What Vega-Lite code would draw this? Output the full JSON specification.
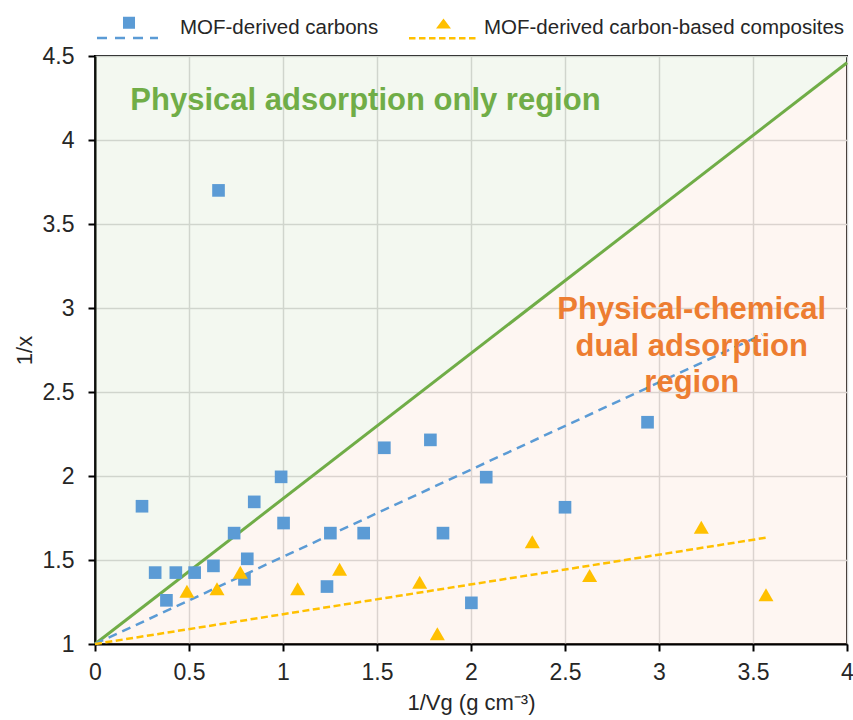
{
  "$schema": "https://vega.github.io/schema/vega-lite/v6.json",
  "width": 752,
  "height": 588,
  "autosize": {"type": "none"},
  "padding": {"left": 95, "top": 56, "right": 6, "bottom": 76},
  "config": {
    "font": "Liberation Sans",
    "view": {"stroke": "#000000", "strokeWidth": 2},
    "axis": {
      "domainColor": "#000000",
      "domainWidth": 2,
      "tickColor": "#000000",
      "tickWidth": 2,
      "tickSize": 7,
      "gridColor": "#d9d9d9",
      "gridWidth": 1.5,
      "labelFont": "Liberation Sans",
      "labelFontSize": 23,
      "labelColor": "#262626",
      "titleFont": "Liberation Sans",
      "titleFontSize": 22,
      "titleFontWeight": "normal",
      "titleColor": "#262626"
    }
  },
  "datasets": {
    "points": [
      {"series": "MOF-derived carbons", "x": 0.25, "y": 1.82},
      {"series": "MOF-derived carbons", "x": 0.32, "y": 1.425},
      {"series": "MOF-derived carbons", "x": 0.38, "y": 1.26},
      {"series": "MOF-derived carbons", "x": 0.43, "y": 1.425},
      {"series": "MOF-derived carbons", "x": 0.53, "y": 1.425},
      {"series": "MOF-derived carbons", "x": 0.63, "y": 1.465},
      {"series": "MOF-derived carbons", "x": 0.657, "y": 3.70},
      {"series": "MOF-derived carbons", "x": 0.74, "y": 1.66},
      {"series": "MOF-derived carbons", "x": 0.795, "y": 1.385},
      {"series": "MOF-derived carbons", "x": 0.81, "y": 1.507},
      {"series": "MOF-derived carbons", "x": 0.847, "y": 1.846},
      {"series": "MOF-derived carbons", "x": 0.99, "y": 1.995},
      {"series": "MOF-derived carbons", "x": 1.003, "y": 1.72},
      {"series": "MOF-derived carbons", "x": 1.252, "y": 1.66},
      {"series": "MOF-derived carbons", "x": 1.234, "y": 1.342},
      {"series": "MOF-derived carbons", "x": 1.429, "y": 1.66},
      {"series": "MOF-derived carbons", "x": 1.539, "y": 2.168},
      {"series": "MOF-derived carbons", "x": 1.784, "y": 2.215},
      {"series": "MOF-derived carbons", "x": 1.851, "y": 1.66},
      {"series": "MOF-derived carbons", "x": 2.002, "y": 1.245},
      {"series": "MOF-derived carbons", "x": 2.081, "y": 1.993},
      {"series": "MOF-derived carbons", "x": 2.5, "y": 1.814},
      {"series": "MOF-derived carbons", "x": 2.939, "y": 2.32},
      {"series": "MOF-derived carbon-based composites", "x": 0.489, "y": 1.314},
      {"series": "MOF-derived carbon-based composites", "x": 0.649, "y": 1.329},
      {"series": "MOF-derived carbon-based composites", "x": 0.773, "y": 1.427},
      {"series": "MOF-derived carbon-based composites", "x": 1.078, "y": 1.329},
      {"series": "MOF-derived carbon-based composites", "x": 1.301, "y": 1.445},
      {"series": "MOF-derived carbon-based composites", "x": 1.727, "y": 1.368},
      {"series": "MOF-derived carbon-based composites", "x": 1.821, "y": 1.061},
      {"series": "MOF-derived carbon-based composites", "x": 2.326, "y": 1.608},
      {"series": "MOF-derived carbon-based composites", "x": 2.631, "y": 1.408},
      {"series": "MOF-derived carbon-based composites", "x": 3.225, "y": 1.695},
      {"series": "MOF-derived carbon-based composites", "x": 3.569, "y": 1.293}
    ],
    "trend": [
      {"series": "MOF-derived carbons", "x": 0, "y": 1},
      {"series": "MOF-derived carbons", "x": 3.549, "y": 2.842},
      {"series": "MOF-derived carbon-based composites", "x": 0, "y": 1},
      {"series": "MOF-derived carbon-based composites", "x": 3.576, "y": 1.634}
    ],
    "boundary": [
      {"x": 0, "y": 1, "top": 4.5, "bottom": 1},
      {"x": 4, "y": 4.46, "top": 4.5, "bottom": 1}
    ]
  },
  "encoding": {
    "x": {
      "field": "x",
      "type": "quantitative",
      "scale": {"domain": [0, 4], "nice": false, "zero": false},
      "axis": {
        "title": "1/Vg (g cm⁻³)",
        "values": [0, 0.5, 1, 1.5, 2, 2.5, 3, 3.5, 4],
        "format": "~g",
        "labelPadding": 10,
        "titlePadding": 8,
        "labelFlush": false,
        "labelOverlap": false
      }
    },
    "y": {
      "field": "y",
      "type": "quantitative",
      "scale": {"domain": [1, 4.5], "nice": false, "zero": false},
      "axis": {
        "title": "1/x",
        "values": [1, 1.5, 2, 2.5, 3, 3.5, 4, 4.5],
        "format": "~g",
        "labelPadding": 14,
        "titlePadding": 6,
        "labelFlush": false,
        "labelOverlap": false
      }
    }
  },
  "layer": [
    {
      "data": {"name": "boundary"},
      "mark": {"type": "area", "color": "#87b969", "opacity": 0.1},
      "encoding": {"y2": {"field": "top"}}
    },
    {
      "data": {"name": "boundary"},
      "mark": {"type": "area", "color": "#f5a57d", "opacity": 0.1},
      "encoding": {"y2": {"field": "bottom"}}
    },
    {
      "data": {"name": "boundary"},
      "mark": {"type": "line", "color": "#70ad47", "strokeWidth": 3},
      "encoding": {}
    },
    {
      "data": {"name": "trend"},
      "transform": [{"filter": "datum.series === 'MOF-derived carbons'"}],
      "mark": {"type": "line", "strokeWidth": 2.5, "color": "#5b9bd5", "strokeDash": [9, 6]},
      "encoding": {}
    },
    {
      "data": {"name": "trend"},
      "transform": [{"filter": "datum.series === 'MOF-derived carbon-based composites'"}],
      "mark": {"type": "line", "strokeWidth": 2.5, "color": "#ffc000", "strokeDash": [7, 3.5]},
      "encoding": {}
    },
    {
      "data": {"name": "points"},
      "mark": {"type": "point", "filled": true, "opacity": 1},
      "encoding": {
        "color": {
          "field": "series",
          "type": "nominal",
          "scale": {"domain": ["MOF-derived carbons", "MOF-derived carbon-based composites"], "range": ["#5b9bd5", "#ffc000"]},
          "legend": {
            "orient": "none",
            "legendX": 12,
            "legendY": -61,
            "direction": "horizontal",
            "title": null,
            "symbolSize": 4225,
            "symbolStrokeWidth": 0,
            "symbolType": {"expr": "datum.value === 'MOF-derived carbons' ? 'M-0.508,-0.354H-0.138V0.015H-0.508Z M-1.308,0.26H-1V0.338H-1.308Z M-0.754,0.26H-0.446V0.338H-0.754Z M-0.2,0.26H0.108V0.338H-0.2Z M0.323,0.26H0.569V0.338H0.323Z' : 'M0,-0.292L0.23,0.015L-0.23,0.015Z M-1.062,0.277H-0.862V0.354H-1.062Z M-0.754,0.277H-0.554V0.354H-0.754Z M-0.446,0.277H-0.246V0.354H-0.446Z M-0.138,0.277H0.062V0.354H-0.138Z M0.169,0.277H0.369V0.354H0.169Z M0.477,0.277H0.677V0.354H0.477Z M0.785,0.277H0.985V0.354H0.785Z'"},
            "labelFont": "Liberation Sans",
            "labelFontSize": 20.5,
            "labelColor": "#262626",
            "labelOffset": 8,
            "labelLimit": 500,
            "columnPadding": 29
          }
        },
        "shape": {
          "field": "series",
          "type": "nominal",
          "scale": {"domain": ["MOF-derived carbon-based composites", "MOF-derived carbons"], "range": ["triangle-up", "square"]},
          "legend": null
        },
        "size": {
          "field": "series",
          "type": "nominal",
          "scale": {"domain": ["MOF-derived carbon-based composites", "MOF-derived carbons"], "range": [225, 160]},
          "legend": null
        }
      }
    },
    {
      "data": {"values": [{"x": 0.188, "y": 4.176, "label": "Physical adsorption only region"}]},
      "mark": {"type": "text", "align": "left", "baseline": "alphabetic", "font": "Liberation Sans", "fontSize": 31, "fontWeight": "bold", "color": "#70ad47"},
      "encoding": {"text": {"field": "label"}}
    },
    {
      "data": {"values": [{"x": 3.174, "y": 2.932, "label": "Physical-chemical\ndual adsorption\nregion"}]},
      "mark": {"type": "text", "align": "center", "baseline": "alphabetic", "lineBreak": "\n", "lineHeight": 36.5, "font": "Liberation Sans", "fontSize": 31, "fontWeight": "bold", "color": "#ed7d31"},
      "encoding": {"text": {"field": "label"}}
    }
  ]
}
